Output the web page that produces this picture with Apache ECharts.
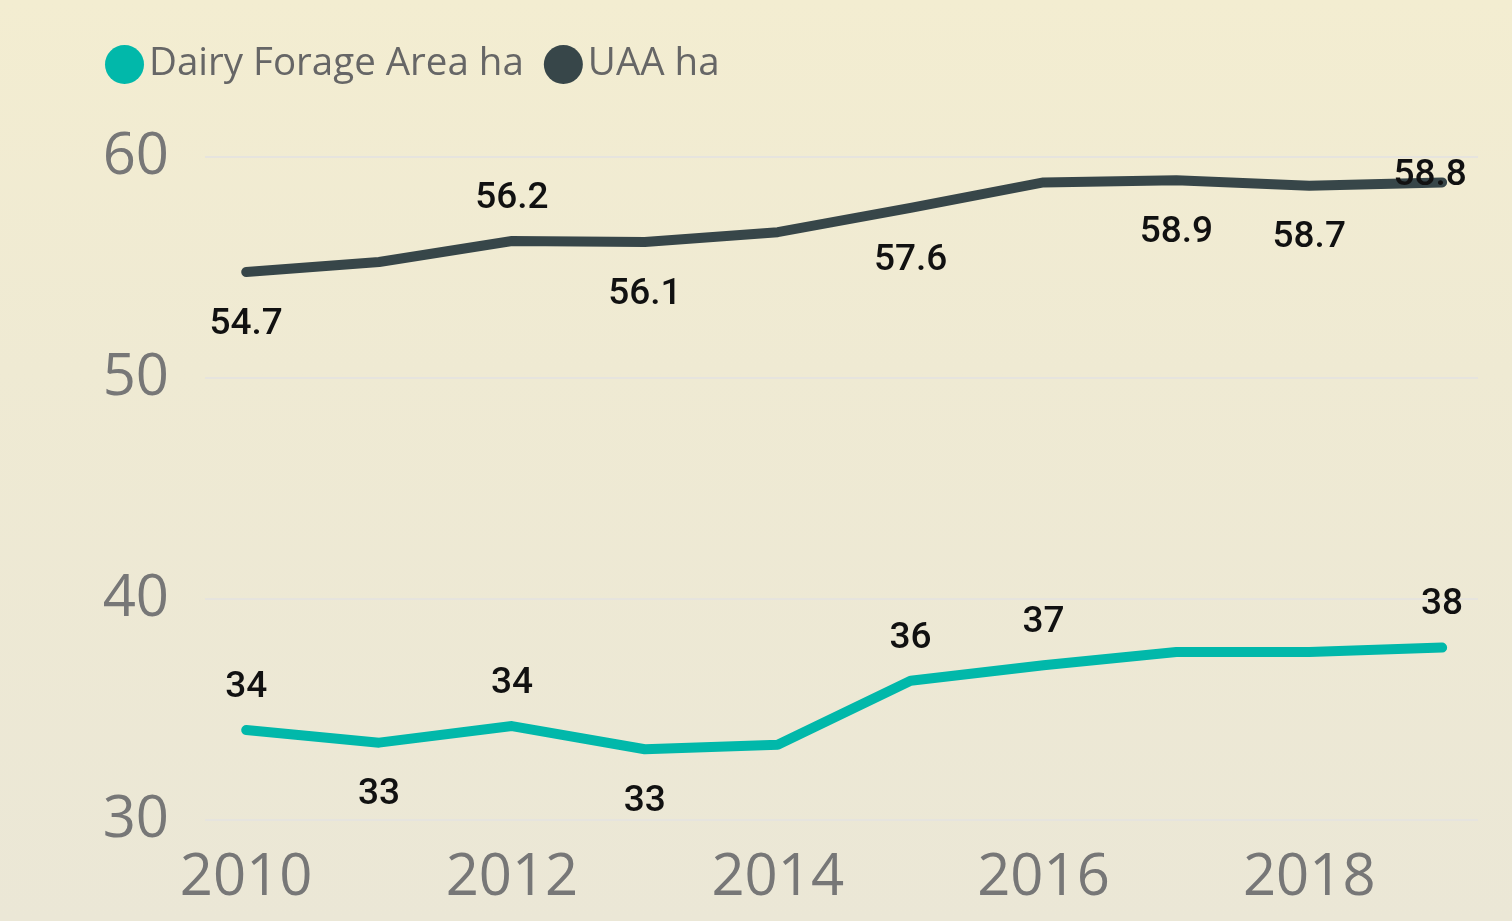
<!DOCTYPE html>
<html>
<head>
<meta charset="utf-8">
<script src="https://cdn.jsdelivr.net/npm/echarts@6/dist/echarts.min.js"></script>
<style>
html,body{margin:0;padding:0;width:1512px;height:921px;overflow:hidden;
background:linear-gradient(180deg,#f3edd1 0%,#efead3 40%,#ebe7d6 100%);}
#chart{width:1512px;height:921px;}
</style>
</head>
<body>
<div id="chart"></div>
<script>
const years = [2010, 2011, 2012, 2013, 2014, 2015, 2016, 2017, 2018, 2019];
const forage = [34.07, 33.5, 34.25, 33.2, 33.4, 36.3, 37.0, 37.6, 37.6, 37.8];
const uaa = [54.8, 55.25, 56.2, 56.15, 56.6, 57.7, 58.85, 58.95, 58.7, 58.85];
const forageLabels = ['34', '33', '34', '33', '', '36', '37', '', '', '38'];
const forageLabelPos = ['top', 'bottom', 'top', 'bottom', 'top', 'top', 'top', 'top', 'top', 'top'];
const uaaLabels = ['54.7', '', '56.2', '56.1', '', '57.6', '', '58.9', '58.7', '58.8'];
const uaaLabelPos = ['bottom', 'bottom', 'top', 'bottom', 'bottom', 'bottom', 'bottom', 'bottom', 'bottom', 'top'];
const xTickLabels = [2010, 2012, 2014, 2016, 2018];

const labelFont = {fontFamily: 'Roboto', fontSize: 37, color: '#111', fontWeight: 500};

function buildData(vals, labels, pos, lastOffset) {
  return vals.map((v, i) => {
    const item = {value: [years[i], v]};
    if (labels[i] === '') {
      item.label = {show: false};
    } else {
      const lab = {show: true, position: pos[i], distance: pos[i] === 'top' ? 23 : 33,
                   formatter: labels[i]};
      if (lastOffset && i === vals.length - 1) lab.offset = lastOffset;
      item.label = lab;
    }
    return item;
  });
}

const chart = echarts.init(document.getElementById('chart'));
chart.setOption({
  animation: false,
  legend: {
    left: 100, top: 40,
    itemWidth: 39, itemHeight: 39, itemGap: 20,
    icon: 'circle',
    textStyle: {fontFamily: 'Open Sans', fontSize: 38.5, color: '#666', padding: [0, 0, 0, 0]},
    data: ['Dairy Forage Area ha', 'UAA ha']
  },
  grid: {left: 205, right: 34, top: 157, bottom: 101, containLabel: false},
  xAxis: {
    type: 'value', min: 2009.69, max: 2019.27,
    axisLine: {show: false}, axisTick: {show: false}, splitLine: {show: false},
    axisLabel: {customValues: xTickLabels, formatter: v => String(Math.round(v)),
      fontFamily: 'Open Sans', fontSize: 58, color: '#777', margin: 29}
  },
  yAxis: {
    type: 'value', min: 30, max: 60, interval: 10,
    axisLine: {show: false}, axisTick: {show: false},
    splitLine: {lineStyle: {color: '#e6e4de', width: 2}},
    axisLabel: {fontFamily: 'Open Sans', fontSize: 58, color: '#777', margin: 36}
  },
  series: [
    {
      name: 'Dairy Forage Area ha', type: 'line', symbol: 'circle', symbolSize: 2, showSymbol: true,
      color: '#01B8AA',
      itemStyle: {color: '#01B8AA'},
      lineStyle: {width: 10, color: '#01B8AA', cap: 'round', join: 'round'},
      label: Object.assign({show: true}, labelFont),
      data: buildData(forage, forageLabels, forageLabelPos, null)
    },
    {
      name: 'UAA ha', type: 'line', symbol: 'circle', symbolSize: 2, showSymbol: true,
      color: '#374649',
      itemStyle: {color: '#374649'},
      lineStyle: {width: 10, color: '#374649', cap: 'round', join: 'round'},
      label: Object.assign({show: true}, labelFont),
      z: 3,
      data: buildData(uaa, uaaLabels, uaaLabelPos, [-12, 36])
    }
  ]
});
</script>
</body>
</html>
